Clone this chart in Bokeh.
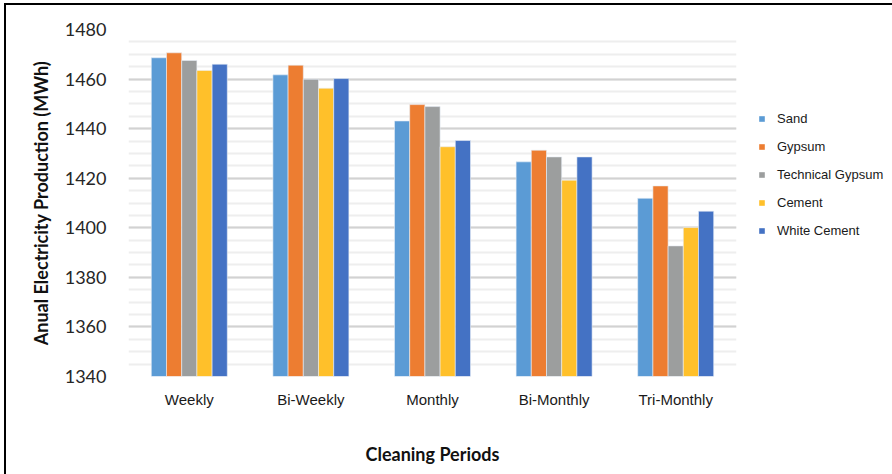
from bokeh.plotting import figure
from bokeh.layouts import row
from bokeh.models import (ColumnDataSource, FactorRange, Range1d, SingleIntervalTicker,
                          Legend, LegendItem)
from bokeh.transform import dodge
from bokeh.embed import file_html
from bokeh.resources import INLINE

# Annual electricity production (MWh) per cleaning period and dust type
periods = ["Weekly", "Bi-Weekly", "Monthly", "Bi-Monthly", "Tri-Monthly"]
sand = [1468.6, 1461.7, 1443.1, 1426.6, 1411.9]
gypsum = [1470.6, 1465.6, 1449.7, 1431.3, 1416.9]
technical_gypsum = [1467.5, 1459.9, 1448.9, 1428.6, 1392.7]
cement = [1463.5, 1456.3, 1432.7, 1419.2, 1400.1]
white_cement = [1466.0, 1460.2, 1435.2, 1428.6, 1406.7]

series_names = ["Sand", "Gypsum", "Technical Gypsum", "Cement", "White Cement"]
series_keys = ["sand", "gypsum", "tech", "cement", "white"]
colors = ["#5B9BD5", "#ED7D31", "#9C9E9E", "#FFC02A", "#4472C4"]

source = ColumnDataSource(data=dict(
    period=periods, sand=sand, gypsum=gypsum, tech=technical_gypsum,
    cement=cement, white=white_cement,
))

p = figure(
    x_range=FactorRange(*periods, range_padding=0),
    y_range=Range1d(1340, 1480),
    width=734, height=469,
    output_backend="svg", toolbar_location=None,
    min_border_left=122, min_border_right=4,
    min_border_top=24, min_border_bottom=98,
)
p.outline_line_color = None
p.background_fill_color = "white"
p.border_fill_color = "white"

bar_w = 0.125
offsets = [-0.25, -0.125, 0.0, 0.125, 0.25]
for key, color, off in zip(series_keys, colors, offsets):
    p.vbar(x=dodge("period", off, range=p.x_range), top=key, bottom=1340,
           width=bar_w, source=source, fill_color=color,
           line_color="#e8eef6", line_width=0.6)

# Grid: major every 20, minor every 5
p.xgrid.grid_line_color = None
p.yaxis.ticker = SingleIntervalTicker(interval=20, num_minor_ticks=4)
p.ygrid.grid_line_color = "#d2d2d2"
p.ygrid.grid_line_width = 2
p.ygrid.minor_grid_line_color = "#eeeeee"
p.ygrid.minor_grid_line_width = 2

# Y axis
p.yaxis.axis_line_color = None
p.yaxis.major_tick_line_color = None
p.yaxis.minor_tick_line_color = None
p.yaxis.major_tick_out = 0
p.yaxis.minor_tick_out = 0
p.yaxis.major_label_standoff = 22
p.yaxis.major_label_text_font = "Lato"
p.yaxis.major_label_text_font_size = "18px"
p.yaxis.major_label_text_color = "#262626"
p.yaxis.axis_label = "Anual Electricity Production (MWh)"
p.yaxis.axis_label_text_font = "Lato"
p.yaxis.axis_label_text_font_style = "bold"
p.yaxis.axis_label_text_font_size = "18px"
p.yaxis.axis_label_text_color = "#111111"
p.yaxis.axis_label_standoff = 10

# X axis
p.xaxis.axis_line_color = None
p.xaxis.major_tick_line_color = None
p.xaxis.minor_tick_line_color = None
p.xaxis.major_tick_out = 0
p.xaxis.major_label_standoff = 14
p.xaxis.major_label_text_font = "Liberation Sans"
p.xaxis.major_label_text_font_size = "15px"
p.xaxis.major_label_text_color = "#1a1a1a"
p.xaxis.axis_label = "Cleaning Periods"
p.xaxis.axis_label_text_font = "Lato"
p.xaxis.axis_label_text_font_style = "bold"
p.xaxis.axis_label_text_font_size = "18px"
p.xaxis.axis_label_text_color = "#111111"
p.xaxis.axis_label_standoff = 32

# Legend panel to the right of the chart; its renderers are hidden so
# only the legend swatches and labels show.
q = figure(
    x_range=FactorRange(*periods), y_range=Range1d(1340, 1480),
    width=152, height=469,
    output_backend="svg", toolbar_location=None,
    x_axis_type=None, y_axis_type=None,
    min_border=0,
)
q.outline_line_color = None
q.xgrid.grid_line_color = None
q.ygrid.grid_line_color = None
q.background_fill_color = "white"
q.border_fill_color = "white"

swatches = []
for key, c in zip(series_keys, colors):
    r = q.vbar(x="period", top=key, bottom=1340, width=0.1, source=source,
               fill_color=c, line_color=None)
    r.visible = False
    swatches.append(r)

legend = Legend(
    items=[LegendItem(label=n, renderers=[r]) for n, r in zip(series_names, swatches)],
    location=(18, 138),
    orientation="vertical",
    padding=0, margin=0, border_line_color=None, background_fill_alpha=0,
    inactive_fill_alpha=0,
    glyph_width=7, glyph_height=7, label_standoff=12,
    label_height=16, spacing=12,
    label_text_font="Liberation Sans", label_text_font_size="13px",
    label_text_color="#1a1a1a",
)
q.add_layout(legend)

layout = row(p, q)
layout.styles = {
    "margin-left": "4px", "margin-top": "3px",
    "border-left": "2px solid black", "border-top": "2px solid black",
}

open("out.html", "w").write(file_html(layout, INLINE))
